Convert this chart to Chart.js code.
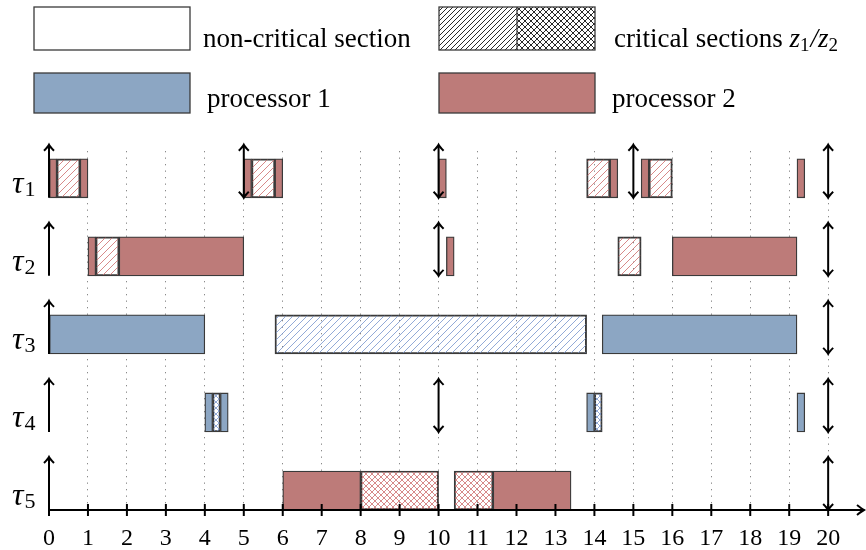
<!DOCTYPE html>
<html>
<head>
<meta charset="utf-8">
<script src="https://cdn.jsdelivr.net/npm/chart.js@4/dist/chart.umd.min.js"></script>
<style>
  html, body { margin: 0; padding: 0; background: #fff; }
  #wrap { width: 866px; height: 550px; position: relative; }
</style>
</head>
<body>
<div id="wrap"><canvas id="schedule"></canvas></div>
<script>
// Zeitachse und Tasks
const taskNames = ['τ1', 'τ2', 'τ3', 'τ4', 'τ5'];
const taskIndex = ['1', '2', '3', '4', '5'];
const xTicks = [0, 1, 2, 3, 4, 5, 6, 7, 8, 9, 10, 11, 12, 13, 14, 15, 16, 17, 18, 19, 20];

// Segmente: [task, start, ende]
const p1Plain = [[2, 0, 4], [2, 14.2, 19.2], [3, 4, 4.2], [3, 4.4, 4.6], [3, 13.8, 14], [3, 19.2, 19.4]];
const p1Z1 = [[2, 5.8, 13.8]];
const p1Z2 = [[3, 4.2, 4.4], [3, 14, 14.2]];
const p2Plain = [[0, 0, 0.2], [0, 0.8, 1], [0, 5, 5.2], [0, 5.8, 6], [0, 10, 10.2], [0, 14.4, 14.6], [0, 15.2, 15.4], [0, 19.2, 19.4],
                 [1, 1, 1.2], [1, 1.8, 5], [1, 10.2, 10.4], [1, 16, 19.2],
                 [4, 6, 8], [4, 11.4, 13.4]];
const p2Z1 = [[0, 0.2, 0.8], [0, 5.2, 5.8], [0, 13.8, 14.4], [0, 15.4, 16], [1, 1.2, 1.8], [1, 14.6, 15.2]];
const p2Z2 = [[4, 8, 10], [4, 10.4, 11.4]];

// Pfeile: nur Release (hoch) bzw. Deadline+Release (doppelt)
const upArrows = [[0], [0], [0], [0], [0]];
const doubleArrows = [[5, 10, 15, 20], [10, 20], [20], [10, 20], [20]];

const BLUE = '#8ca6c3';
const RED = '#bd7b79';
const EDGE = '#3a3a3a';
const SERIF = '"Liberation Serif", "DejaVu Serif", serif';

/**
 * Schraffur-Muster erzeugen
 */
function makePattern(color, cross, size, width) {
    const c = document.createElement('canvas');
    c.width = size; c.height = size;
    const g = c.getContext('2d');
    g.strokeStyle = color;
    g.lineWidth = width;
    g.beginPath();
    g.moveTo(-1, size + 1); g.lineTo(size + 1, -1);
    g.moveTo(-2, 2); g.lineTo(2, -2);
    g.moveTo(size - 2, size + 2); g.lineTo(size + 2, size - 2);
    if (cross) {
        g.moveTo(-1, -1); g.lineTo(size + 1, size + 1);
        g.moveTo(size - 2, -2); g.lineTo(size + 2, 2);
        g.moveTo(-2, size - 2); g.lineTo(2, size + 2);
    }
    g.stroke();
    return g.createPattern(c, 'repeat');
}

const hatchRed = makePattern('rgba(205,110,110,0.9)', false, 7, 0.9);
const hatchBlue = makePattern('rgba(120,150,205,0.9)', false, 7, 0.9);
const crossRed = makePattern('rgba(205,110,110,0.9)', true, 6, 0.9);
const crossBlue = makePattern('rgba(120,150,205,0.9)', true, 6, 0.9);
const legendHatch = makePattern('#111', false, 5, 0.9);
const legendCross = makePattern('#111', true, 6, 0.9);

// τ1 oben, τ5 unten; jede Zeile 2 Einheiten hoch
function rowBase(t) {
    return (taskNames.length - 1 - t) * 2;
}

function toBars(list) {
    return list.map(s => ({ x: [s[1], s[2]], y: rowBase(s[0]) + 0.5 }));
}

function barSet(label, list, fill) {
    return {
        label: label,
        data: toBars(list),
        backgroundColor: fill,
        borderColor: EDGE,
        borderWidth: 1.3,
        borderSkipped: false,
        barThickness: 39,
        grouped: false
    };
}

function drawArrowHead(ctx, x, y, dir) {
    // dir: -1 nach oben, +1 nach unten
    ctx.beginPath();
    ctx.moveTo(x - 5, y - dir * 6);
    ctx.quadraticCurveTo(x - 1, y - dir * 2, x, y);
    ctx.quadraticCurveTo(x + 1, y - dir * 2, x + 5, y - dir * 6);
    ctx.stroke();
}

function drawTau(ctx, x, y, sub) {
    ctx.font = 'italic 32px ' + SERIF;
    ctx.textAlign = 'left';
    ctx.textBaseline = 'alphabetic';
    ctx.fillText('τ', x, y);
    const w = ctx.measureText('τ').width;
    ctx.font = '22px ' + SERIF;
    ctx.fillText(sub, x + w + 1, y + 3);
}

const schedulePlugin = {
    id: 'schedule',
    afterDatasetsDraw(chart) {
        const ctx = chart.ctx;
        const xs = chart.scales.x;
        const ys = chart.scales.y;
        ctx.save();
        ctx.strokeStyle = '#000';
        ctx.fillStyle = '#000';
        ctx.lineWidth = 2;
        ctx.lineCap = 'butt';

        // Zeitachse mit Pfeil
        const y0 = ys.getPixelForValue(0);
        const xStart = xs.getPixelForValue(0);
        const xEnd = xs.getPixelForValue(xs.max);
        ctx.beginPath();
        ctx.moveTo(xStart, y0);
        ctx.lineTo(xEnd - 1, y0);
        ctx.stroke();
        ctx.beginPath();
        ctx.moveTo(xEnd - 7, y0 - 5);
        ctx.quadraticCurveTo(xEnd - 2, y0 - 1, xEnd, y0);
        ctx.quadraticCurveTo(xEnd - 2, y0 + 1, xEnd - 7, y0 + 5);
        ctx.stroke();
        xTicks.forEach(v => {
            const px = xs.getPixelForValue(v);
            ctx.beginPath();
            ctx.moveTo(px, y0 - 6);
            ctx.lineTo(px, y0 + 6);
            ctx.stroke();
        });

        // Release-/Deadline-Pfeile
        taskNames.forEach((name, t) => {
            const yb = ys.getPixelForValue(rowBase(t));
            const yt = ys.getPixelForValue(rowBase(t) + 1.36);
            upArrows[t].forEach(v => {
                const px = xs.getPixelForValue(v);
                ctx.beginPath();
                ctx.moveTo(px, yb);
                ctx.lineTo(px, yt + 1);
                ctx.stroke();
                drawArrowHead(ctx, px, yt, -1);
            });
            doubleArrows[t].forEach(v => {
                const px = xs.getPixelForValue(v);
                ctx.beginPath();
                ctx.moveTo(px, yb - 1);
                ctx.lineTo(px, yt + 1);
                ctx.stroke();
                drawArrowHead(ctx, px, yt, -1);
                drawArrowHead(ctx, px, yb, 1);
            });
            drawTau(ctx, 12, yb - 5, taskIndex[t]);
        });
        ctx.restore();
    },
    afterDraw(chart) {
        // Legende
        const ctx = chart.ctx;
        ctx.save();
        ctx.strokeStyle = EDGE;
        ctx.lineWidth = 1.3;

        ctx.fillStyle = '#fff';
        ctx.fillRect(34, 7, 156, 43);
        ctx.strokeRect(34, 7, 156, 43);

        ctx.fillStyle = legendHatch;
        ctx.fillRect(439, 7, 78, 43);
        ctx.fillStyle = legendCross;
        ctx.fillRect(517, 7, 78, 43);
        ctx.strokeRect(439, 7, 156, 43);
        ctx.beginPath();
        ctx.moveTo(517, 7); ctx.lineTo(517, 50);
        ctx.stroke();

        ctx.fillStyle = BLUE;
        ctx.fillRect(34, 73, 156, 40);
        ctx.strokeRect(34, 73, 156, 40);
        ctx.fillStyle = RED;
        ctx.fillRect(439, 73, 156, 40);
        ctx.strokeRect(439, 73, 156, 40);

        ctx.fillStyle = '#000';
        ctx.textAlign = 'left';
        ctx.textBaseline = 'alphabetic';
        ctx.font = '27px ' + SERIF;
        ctx.fillText('non-critical section', 203, 47);
        ctx.fillText('processor 1', 207, 107);
        ctx.fillText('processor 2', 612, 107);

        let x = 614;
        ctx.fillText('critical sections ', x, 47);
        x += ctx.measureText('critical sections ').width;
        const parts = [['z', 'italic 27px '], ['1', '19px '], ['/', 'italic 27px '], ['z', 'italic 27px '], ['2', '19px ']];
        parts.forEach(p => {
            ctx.font = p[1] + SERIF;
            const sub = p[0] === '1' || p[0] === '2';
            ctx.fillText(p[0], x, sub ? 51 : 47);
            x += ctx.measureText(p[0]).width + (sub ? 1 : 0);
        });
        ctx.restore();
    }
};

new Chart(document.getElementById('schedule'), {
    type: 'bar',
    data: {
        datasets: [
            barSet('processor 1', p1Plain, BLUE),
            barSet('processor 2', p2Plain, RED),
            barSet('z1 (processor 1)', p1Z1, hatchBlue),
            barSet('z1 (processor 2)', p2Z1, hatchRed),
            barSet('z2 (processor 1)', p1Z2, crossBlue),
            barSet('z2 (processor 2)', p2Z2, crossRed)
        ]
    },
    options: {
        indexAxis: 'y',
        responsive: true,
        maintainAspectRatio: false,
        animation: false,
        layout: { padding: { left: 49, right: 2, top: 151, bottom: 0 } },
        plugins: {
            legend: { display: false },
            tooltip: { enabled: false }
        },
        scales: {
            x: {
                type: 'linear',
                min: 0,
                max: 20.92,
                offset: false,
                afterBuildTicks: scale => {
                    scale.ticks = xTicks.map(v => ({ value: v }));
                },
                afterFit: scale => { scale.height = 40; },
                ticks: {
                    color: '#000',
                    padding: 14,
                    font: { family: SERIF, size: 24 }
                },
                grid: {
                    drawTicks: false,
                    offset: false,
                    color: ctx => (ctx.tick && ctx.tick.value > 0 ? '#8a8a8a' : 'rgba(0,0,0,0)'),
                    lineWidth: 1
                },
                border: { display: false, dash: [1.3, 5.2] }
            },
            y: {
                type: 'linear',
                min: 0,
                max: 9.2,
                offset: false,
                grid: { offset: false },
                display: false
            }
        }
    },
    plugins: [schedulePlugin]
});
</script>
</body>
</html>
